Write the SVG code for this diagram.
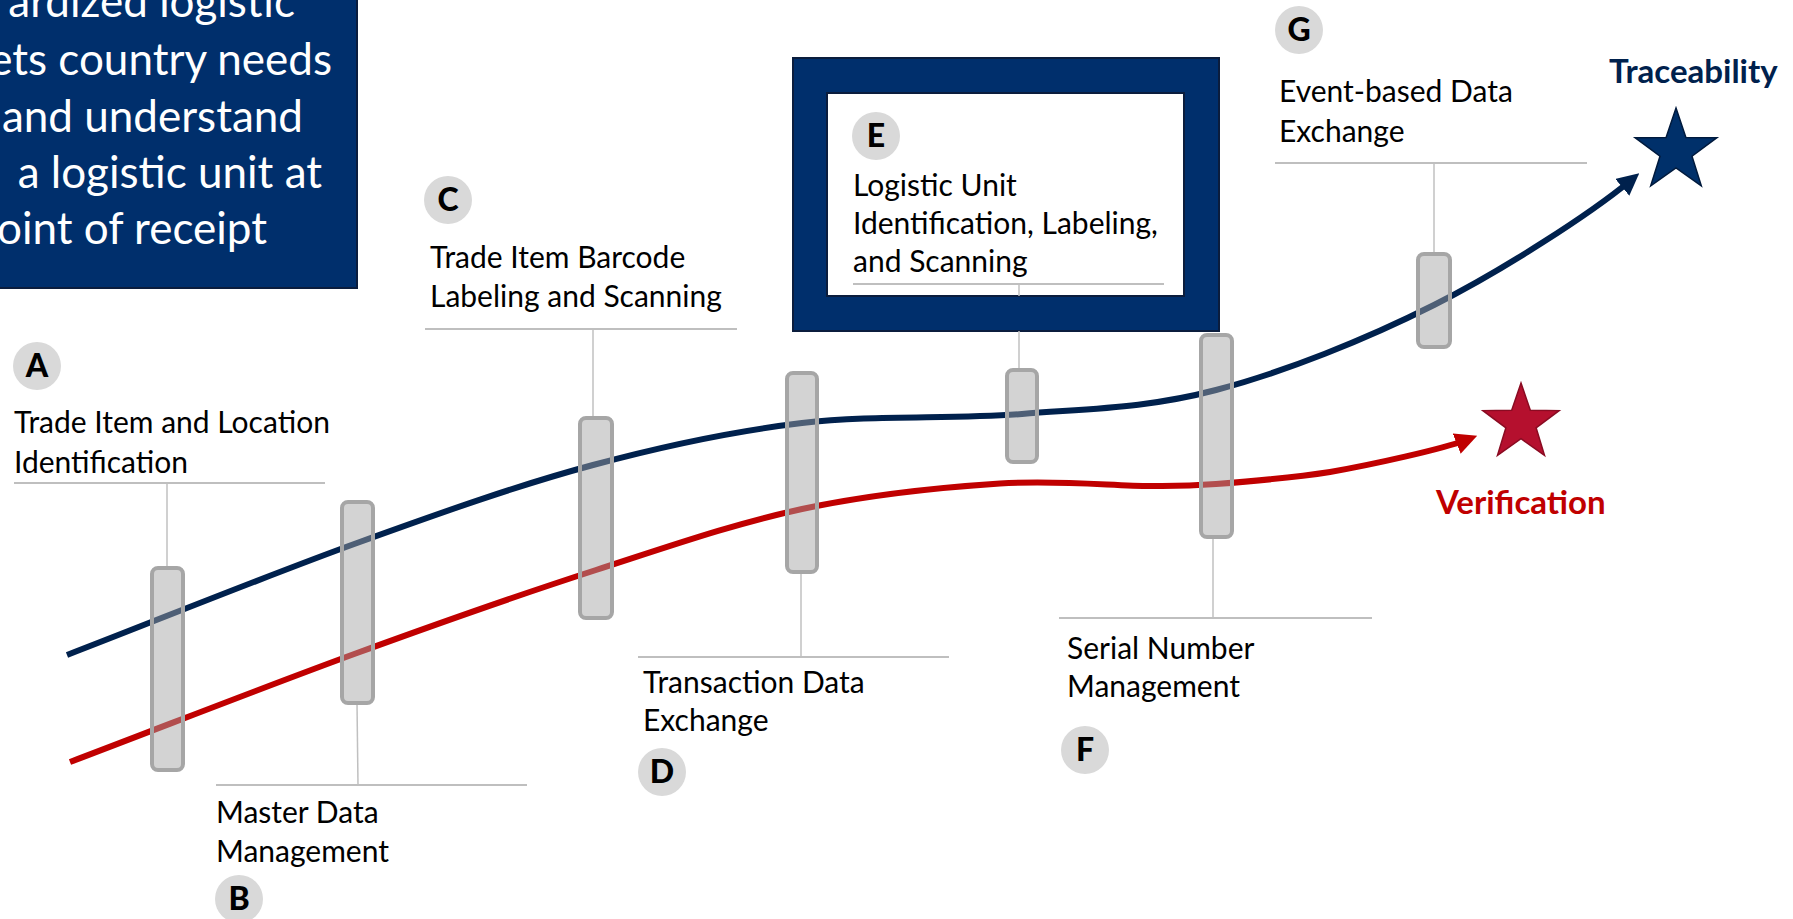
<svg xmlns="http://www.w3.org/2000/svg" width="1793" height="919" viewBox="0 0 1793 919">
<style>
.lbl{font-family:Lato,"Liberation Sans",sans-serif;font-size:30px;fill:#000}
.badge circle{fill:#d9d9d9}
.badge text{font-family:Lato,"Liberation Sans",sans-serif;font-size:32px;font-weight:900;fill:#000;text-anchor:middle}
.rule{stroke:#bfbfbf;stroke-width:2;fill:none}
.lead{stroke:#c0c0c0;stroke-width:1.5;fill:none}
.bar{fill:#a4a4a4;fill-opacity:0.48;stroke:#a6a6a6;stroke-width:4}
.box{font-family:Lato,"Liberation Sans",sans-serif;font-size:44px;fill:#fff;text-anchor:end}
.goal{font-family:Lato,"Liberation Sans",sans-serif;font-size:33px;font-weight:bold}
</style>
<defs>
<marker id="arrNavy" markerUnits="userSpaceOnUse" viewBox="0 0 22 22" markerWidth="22" markerHeight="22" refX="10" refY="11" orient="auto"><path d="M0,0 L22,11 L0,22 z" fill="#00214d"/></marker>
<marker id="arrRed" markerUnits="userSpaceOnUse" viewBox="0 0 22 22" markerWidth="22" markerHeight="22" refX="10" refY="11" orient="auto"><path d="M0,0 L22,11 L0,22 z" fill="#c00000"/></marker>
</defs>
<rect width="1793" height="919" fill="#fff"/>

<g id="intro">
<rect x="-10" y="-10" width="367" height="298" fill="#002f6c" stroke="#0b1d3d" stroke-width="2"/>
<text class="box" x="295" y="17">ardized logistic</text>
<text class="box" x="332" y="75">ets country needs</text>
<text class="box" x="303" y="132">and understand</text>
<text class="box" x="322" y="188">a logistic unit at</text>
<text class="box" x="267" y="244">oint of receipt</text>
</g>

<g id="E-frame">
<rect x="793" y="58" width="426" height="273" fill="#002f6c" stroke="#0b1d3d" stroke-width="2"/>
<rect x="827" y="93" width="357" height="203" fill="#fff" stroke="#0b1d3d" stroke-width="2"/>
</g>

<g id="connectors">
<line class="lead" x1="167" y1="483" x2="167" y2="568"/>
<line class="lead" x1="357" y1="703" x2="358" y2="785"/>
<line class="lead" x1="593" y1="329" x2="593" y2="418"/>
<line class="lead" x1="801" y1="572" x2="801" y2="657"/>
<line class="lead" x1="1019" y1="284" x2="1019" y2="296"/>
<line class="lead" x1="1019" y1="331" x2="1019" y2="370"/>
<line class="lead" x1="1213" y1="537" x2="1213" y2="618"/>
<line class="lead" x1="1434" y1="163" x2="1434" y2="254"/>
<path id="traceability-line" d="M67,655 C163.7,617.7 269.3,574.7 357,543 C444.7,511.3 518.8,485 593,465 C667.2,445 730.5,431.5 802,423 C873.5,414.5 953,419.5 1022,414 C1091,408.5 1147.3,408.2 1216,390 C1284.7,371.8 1365,339.8 1434,305 C1503,270.2 1590,214 1630,181" fill="none" stroke="#00214d" stroke-width="6" marker-end="url(#arrNavy)"/>
<path id="verification-line" d="M70,762 C165.7,725.7 269.3,685 357,653 C444.7,621 521.8,594 596,570 C670.2,546 734.7,523.4 802,509 C869.3,494.6 942,487.3 1000,483.5 C1058,479.7 1114,486 1150,486 C1186,486 1186,486.3 1216,484 C1246,481.7 1293.8,477.7 1330,472 C1371.7,464.7 1442.8,449 1466,440" fill="none" stroke="#c00000" stroke-width="6" marker-end="url(#arrRed)"/>
</g>

<g id="goal-traceability">
<polygon points="1676,108 1685.9,137.4 1716.9,137.7 1692,156.2 1701.3,185.8 1676,167.8 1650.7,185.8 1660,156.2 1635.1,137.7 1666.1,137.4" fill="#00306a" stroke="#001a3d" stroke-width="1.5"/>
<text class="goal" x="1609" y="83" fill="#00214d">Traceability</text>
</g>
<g id="goal-verification">
<polygon points="1521,383 1530.3,410.2 1559.1,410.6 1536.1,427.8 1544.5,455.4 1521,438.7 1497.5,455.4 1505.9,427.8 1482.9,410.6 1511.7,410.2" fill="#b5102e" stroke="#8a0b22" stroke-width="1.5"/>
<text class="goal" x="1436" y="514" fill="#c00000">Verification</text>
</g>

<g id="node-A">
<rect class="bar" x="152" y="568" width="31" height="202" rx="6"/>
<line class="rule" x1="14" y1="483" x2="325" y2="483"/>
<text class="lbl" x="14" y="433">Trade Item and Location</text>
<text class="lbl" x="14" y="473">Identification</text>
<g class="badge"><circle cx="37" cy="366" r="24"/><text x="37" y="377">A</text></g>
</g>

<g id="node-B">
<rect class="bar" x="342" y="502" width="31" height="201" rx="6"/>
<line class="rule" x1="216" y1="785" x2="527" y2="785"/>
<text class="lbl" x="216" y="823">Master Data</text>
<text class="lbl" x="216" y="862">Management</text>
<g class="badge"><circle cx="239" cy="899" r="24"/><text x="239" y="910">B</text></g>
</g>

<g id="node-C">
<rect class="bar" x="580" y="418" width="32" height="200" rx="6"/>
<line class="rule" x1="425" y1="329" x2="737" y2="329"/>
<text class="lbl" x="430" y="268">Trade Item Barcode</text>
<text class="lbl" x="430" y="307">Labeling and Scanning</text>
<g class="badge"><circle cx="448" cy="200" r="24"/><text x="448" y="211">C</text></g>
</g>

<g id="node-D">
<rect class="bar" x="787" y="373" width="30" height="199" rx="6"/>
<line class="rule" x1="638" y1="657" x2="949" y2="657"/>
<text class="lbl" x="643" y="693">Transaction Data</text>
<text class="lbl" x="643" y="731">Exchange</text>
<g class="badge"><circle cx="662" cy="772" r="24"/><text x="662" y="783">D</text></g>
</g>

<g id="node-E">
<rect class="bar" x="1007" y="370" width="30" height="92" rx="6"/>
<line class="rule" x1="853" y1="284" x2="1164" y2="284"/>
<text class="lbl" x="853" y="196">Logistic Unit</text>
<text class="lbl" x="853" y="234">Identification, Labeling,</text>
<text class="lbl" x="853" y="272">and Scanning</text>
<g class="badge"><circle cx="876" cy="136" r="24"/><text x="876" y="147">E</text></g>
</g>

<g id="node-F">
<rect class="bar" x="1201" y="335" width="31" height="202" rx="6"/>
<line class="rule" x1="1059" y1="618" x2="1372" y2="618"/>
<text class="lbl" x="1067" y="659">Serial Number</text>
<text class="lbl" x="1067" y="697">Management</text>
<g class="badge"><circle cx="1085" cy="750" r="24"/><text x="1085" y="761">F</text></g>
</g>

<g id="node-G">
<rect class="bar" x="1418" y="254" width="32" height="93" rx="6"/>
<line class="rule" x1="1275" y1="163" x2="1587" y2="163"/>
<text class="lbl" x="1279" y="102">Event-based Data</text>
<text class="lbl" x="1279" y="142">Exchange</text>
<g class="badge"><circle cx="1299" cy="30" r="24"/><text x="1299" y="41">G</text></g>
</g>
</svg>
